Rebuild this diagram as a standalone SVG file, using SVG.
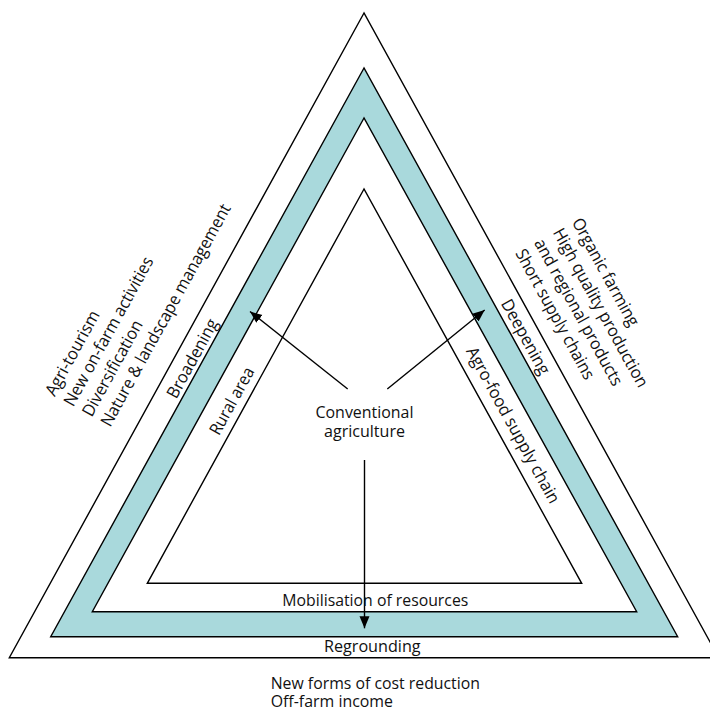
<svg xmlns="http://www.w3.org/2000/svg" width="710" height="709" viewBox="0 0 710 709">
<style>
  .edge { fill: none; stroke: #000; stroke-width: 1.4; stroke-linejoin: miter; }
  .teal { fill: #a9d9dc; stroke: #000; stroke-width: 1.4; }
  .white { fill: #fff; stroke: #000; stroke-width: 1.4; }
  .conn { fill: none; stroke: #000; stroke-width: 1.4; }
  text { font-family: "Open Sans", "Liberation Sans", sans-serif; font-size: 17px; fill: #111; }
  .mid { text-anchor: middle; }
</style>
<defs>
  <marker id="arr" markerUnits="userSpaceOnUse" markerWidth="14" markerHeight="12" refX="12" refY="5" orient="auto">
    <path d="M0,0 L12,5 L0,10 z" fill="#000"/>
  </marker>
</defs>
<rect width="710" height="709" fill="#fff"/>

<g id="outer-triangle">
  <polygon class="edge" points="364,13 9.3,657.7 718.7,657.7"/>
</g>
<g id="regrounding-band">
  <polygon class="teal" points="364,68 50.7,636.7 677.7,636.7"/>
  <polygon class="white" points="364,118 92.3,611.7 636.7,611.7"/>
</g>
<g id="inner-triangle">
  <polygon class="edge" points="364,189 147.3,583.3 581.7,583.3"/>
</g>

<g id="connectors">
  <line class="conn" x1="347.7" y1="389" x2="250" y2="311.5" marker-end="url(#arr)"/>
  <line class="conn" x1="387.3" y1="389" x2="484.7" y2="310" marker-end="url(#arr)"/>
  <line class="conn" x1="364.5" y1="460" x2="364.5" y2="628.3" marker-end="url(#arr)"/>
</g>

<g id="center">
  <text class="mid" x="364.5" y="418.3" textLength="98" lengthAdjust="spacingAndGlyphs">Conventional</text>
  <text class="mid" x="364.5" y="436.6" textLength="81" lengthAdjust="spacingAndGlyphs">agriculture</text>
</g>

<g id="left-side" transform="translate(9.3,657.7) rotate(-61.18)">
  <text x="250" y="-22.4" textLength="251" lengthAdjust="spacingAndGlyphs">Nature &amp; landscape management</text>
  <text x="250" y="-43.5" textLength="106.7" lengthAdjust="spacingAndGlyphs">Diversification</text>
  <text x="250" y="-64.6" textLength="167.4" lengthAdjust="spacingAndGlyphs">New on-farm activities</text>
  <text x="250" y="-85.8" textLength="94.4" lengthAdjust="spacingAndGlyphs">Agri-tourism</text>
  <text class="mid" x="350.4" y="22" textLength="87.7" lengthAdjust="spacingAndGlyphs">Broadening</text>
  <text class="mid" x="332.2" y="77" textLength="74.4" lengthAdjust="spacingAndGlyphs">Rural area</text>
</g>

<g id="right-side" transform="translate(364,13) rotate(61.18)">
  <text x="283" y="-16.5" textLength="146.1" lengthAdjust="spacingAndGlyphs">Short supply chains</text>
  <text x="283" y="-38" textLength="164.9" lengthAdjust="spacingAndGlyphs">and regional products</text>
  <text x="283" y="-59.5" textLength="178.7" lengthAdjust="spacingAndGlyphs">High quality production</text>
  <text x="283" y="-81" textLength="120.8" lengthAdjust="spacingAndGlyphs">Organic farming</text>
  <text class="mid" x="361.6" y="20.3" textLength="83.1" lengthAdjust="spacingAndGlyphs">Deepening</text>
  <text class="mid" x="432.9" y="73.8" textLength="175.7" lengthAdjust="spacingAndGlyphs">Agro-food supply chain</text>
</g>

<g id="bottom">
  <text class="mid" x="375.3" y="606" textLength="186" lengthAdjust="spacingAndGlyphs">Mobilisation of resources</text>
  <text class="mid" x="372.3" y="651.7" textLength="96.7" lengthAdjust="spacingAndGlyphs">Regrounding</text>
  <text x="270.7" y="688.6" textLength="209.3" lengthAdjust="spacingAndGlyphs">New forms of cost reduction</text>
  <text x="270.7" y="706.5" textLength="122.3" lengthAdjust="spacingAndGlyphs">Off-farm income</text>
</g>
</svg>
